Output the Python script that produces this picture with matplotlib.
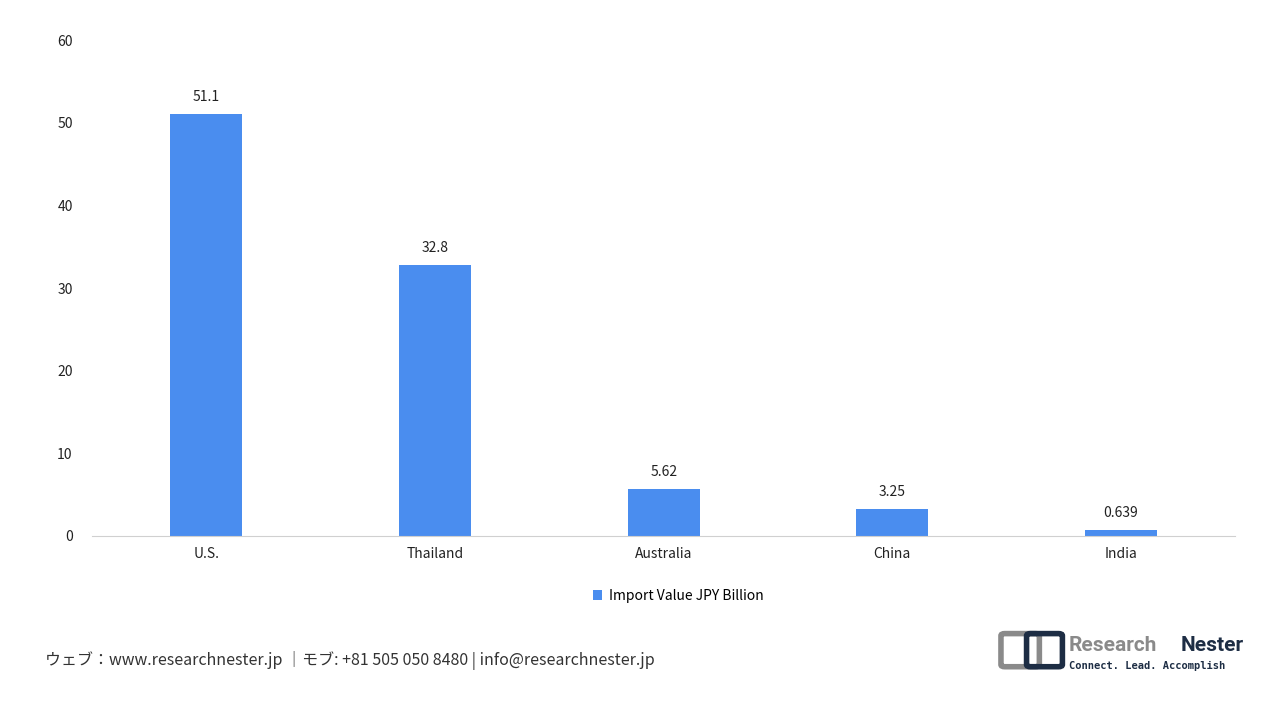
import matplotlib.pyplot as plt
from matplotlib.patches import FancyBboxPatch

plt.rcParams['font.family'] = ['Noto Sans CJK JP', 'DejaVu Sans']

countries = ['U.S.', 'Thailand', 'Australia', 'China', 'India']
values = [51.1, 32.8, 5.62, 3.25, 0.639]
labels = ['51.1', '32.8', '5.62', '3.25', '0.639']

fig = plt.figure(figsize=(12.8, 7.2), dpi=100)
ax = fig.add_axes([0.072, 0.256, 0.893, 0.688])
bars = ax.bar(countries, values, width=0.315, color='#4a8def',
              label='Import Value JPY Billion')
for b, t in zip(bars, labels):
    ax.text(b.get_x() + b.get_width() / 2, b.get_height() + 1.2, t,
            ha='center', va='bottom', fontsize=10, color='#222222')

ax.set_ylim(0, 60)
ax.set_xlim(-0.5, 4.5)
ax.set_yticks(range(0, 61, 10))
for s in ['top', 'right', 'left']:
    ax.spines[s].set_visible(False)
ax.spines['bottom'].set_color('#d0d0d0')
ax.tick_params(axis='both', length=0, labelsize=10, colors='#222222')
ax.tick_params(axis='y', pad=14)
ax.tick_params(axis='x', pad=8)

fig.legend(loc='center', bbox_to_anchor=(0.53, 0.172), frameon=False,
           fontsize=10, handlelength=0.7, handleheight=0.7, handletextpad=0.5)

fig.text(0.035, 0.082,
         'ウェブ：www.researchnester.jp ｜モブ: +81 505 050 8480 | info@researchnester.jp',
         fontsize=11.5, color='#333333', va='center')

# logo
fig.patches.append(FancyBboxPatch((0.785, 0.077), 0.024, 0.04,
                                  boxstyle='round,pad=0.003', fc='none',
                                  ec='#8a8a8a', lw=4, transform=fig.transFigure))
fig.patches.append(FancyBboxPatch((0.805, 0.077), 0.022, 0.04,
                                  boxstyle='round,pad=0.003', fc='none',
                                  ec='#1d2d44', lw=4, transform=fig.transFigure))
fig.text(0.835, 0.104, 'Research', fontsize=15, fontweight='bold',
         color='#8a8a8a', va='center', family='Roboto')
fig.text(0.972, 0.104, 'Nester', fontsize=15, fontweight='bold',
         color='#1d2d44', va='center', ha='right', family='Roboto')
fig.text(0.835, 0.075, 'Connect. Lead. Accomplish', fontsize=7.5,
         fontweight='bold', color='#1d2d44', va='center', family='DejaVu Sans Mono')

fig.savefig('out.png', dpi=100)
